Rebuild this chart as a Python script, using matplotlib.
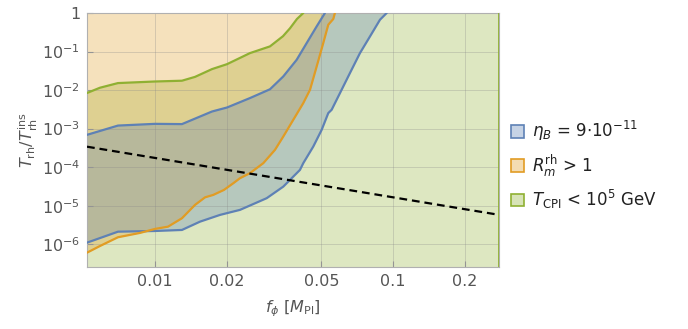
import numpy as np
import matplotlib
matplotlib.use("Agg")
import matplotlib.pyplot as plt
from matplotlib.patches import Patch

# ---- data ----
f_green = [0.00518, 0.00587, 0.00699, 0.0100, 0.01298, 0.01473, 0.01736, 0.02007,
           0.02506, 0.03042, 0.0345, 0.03691, 0.0395, 0.0420]
T_green = [8.4e-3, 1.15e-2, 1.52e-2, 1.67e-2, 1.75e-2, 2.2e-2, 3.5e-2, 4.7e-2,
           9.1e-2, 0.136, 0.25, 0.40, 0.70, 1.0]

f_blue_up = [0.00518, 0.00699, 0.0100, 0.01298, 0.01546, 0.01736, 0.02007, 0.02506,
             0.03042, 0.0346, 0.03938, 0.04339, 0.04779, 0.05177]
T_blue_up = [6.9e-4, 1.20e-3, 1.33e-3, 1.31e-3, 2.06e-3, 2.78e-3, 3.53e-3, 6.2e-3,
             1.05e-2, 2.26e-2, 6.1e-2, 0.166, 0.449, 1.0]

f_blue_lo = [0.00518, 0.00699, 0.0100, 0.01298, 0.01546, 0.01875, 0.02276, 0.02948,
             0.0346, 0.04066, 0.04198, 0.04625, 0.05016, 0.05347, 0.05524, 0.05988,
             0.06595, 0.07267, 0.08007, 0.0882, 0.0941]
T_blue_lo = [1.10e-6, 2.12e-6, 2.21e-6, 2.35e-6, 3.86e-6, 5.77e-6, 7.8e-6, 1.57e-5,
             3.13e-5, 8.5e-5, 1.27e-4, 3.43e-4, 9.3e-4, 2.53e-3, 3.08e-3, 8.36e-3,
             2.77e-2, 9.14e-2, 0.247, 0.67, 1.0]

f_orange = [0.00518, 0.00587, 0.00699, 0.00865, 0.0100, 0.01134, 0.01298, 0.01473,
            0.01623, 0.01758, 0.01949, 0.02134, 0.02276, 0.02506, 0.02851, 0.03192,
            0.0346, 0.0381, 0.04198, 0.04481, 0.04779, 0.05094, 0.05347, 0.05613,
            0.0570]
T_orange = [6.05e-7, 9.0e-7, 1.52e-6, 1.97e-6, 2.50e-6, 2.86e-6, 4.73e-6, 1.05e-5,
            1.65e-5, 1.91e-5, 2.57e-5, 3.84e-5, 5.18e-5, 6.99e-5, 1.27e-4, 2.81e-4,
            6.24e-4, 1.69e-3, 4.6e-3, 1.02e-2, 4.1e-2, 0.166, 0.497, 0.70, 1.0]

f_dash = [0.00518, 0.2789]
T_dash = [3.4e-4, 5.8e-6]

xticks = [0.01, 0.02, 0.05, 0.1, 0.2]
xticklabels = ["0.01", "0.02", "0.05", "0.1", "0.2"]
yticks = [1e-6, 1e-5, 1e-4, 1e-3, 1e-2, 1e-1, 1]
yticklabels = [r"$10^{-6}$", r"$10^{-5}$", r"$10^{-4}$", r"$10^{-3}$",
               r"$10^{-2}$", r"$10^{-1}$", "1"]

labels = [r"$\eta_B$ = 9$\cdot$10$^{-11}$", r"$R_m^{\rm rh}$ > 1",
          r"$T_{\rm CPI}$ < 10$^5$ GeV"]

xmin, xmax = 0.00518, 0.2789
ymin, ymax = 2.57e-7, 1.0

c_blue = "#5e81b5"
c_orange = "#e19c24"
c_green = "#8fb032"
alpha = 0.3

plt.rcParams["font.family"] = ["DejaVu Sans"]
plt.rcParams["mathtext.fontset"] = "dejavusans"

fig = plt.figure(figsize=(6.88, 3.29), dpi=100)
ax = fig.add_axes([87/688, 1-267/329, (499-87)/688, (267-13)/329])
ax.set_xscale("log")
ax.set_yscale("log")
ax.set_xlim(xmin, xmax)
ax.set_ylim(ymin, ymax)

# green region: below green curve, full height to the right
gx = np.append(f_green, xmax)
gy = np.append(T_green, ymax)
ax.fill_between(gx, ymin, gy, color=c_green, alpha=alpha, lw=0, zorder=1)
# orange region: above orange curve
ax.fill_between(f_orange, T_orange, ymax, color=c_orange, alpha=alpha, lw=0, zorder=1)
# blue band
bx = np.concatenate([f_blue_up, np.array(f_blue_lo)[::-1]])
by = np.concatenate([T_blue_up, np.array(T_blue_lo)[::-1]])
ax.fill(bx, by, color=c_blue, alpha=alpha, lw=0, zorder=1)

kw = dict(lw=1.6, zorder=3, solid_joinstyle="round", solid_capstyle="round")
ax.plot(f_green, T_green, color=c_green, **kw)
ax.plot(f_blue_up, T_blue_up, color=c_blue, **kw)
ax.plot(f_blue_lo, T_blue_lo, color=c_blue, **kw)
ax.plot(f_orange, T_orange, color=c_orange, **kw)
ax.axvline(xmax, color=c_green, lw=2, zorder=3)
ax.plot(f_dash, T_dash, color="black", lw=1.6, ls=(0, (3.5, 2.2)), zorder=4)

ax.set_xticks(xticks)
ax.set_xticklabels(xticklabels)
ax.set_yticks(yticks)
ax.set_yticklabels(yticklabels)
ax.minorticks_off()
ax.tick_params(direction="in", length=4, color="#999999", labelcolor="#555555",
               labelsize=11.5, pad=5)
for x in xticks:
    ax.axvline(x, color="#888888", lw=0.7, alpha=0.3, zorder=2)
for y in yticks:
    ax.axhline(y, color="#888888", lw=0.7, alpha=0.3, zorder=2)
for s in ax.spines.values():
    s.set_color("#b0b0b0")
    s.set_linewidth(0.8)

ax.set_xlabel(r"$f_\phi$ [$M_{\rm Pl}$]", color="#555555", fontsize=11.5, labelpad=7)
ax.set_ylabel(r"$T_{\rm rh}/T_{\rm rh}^{\rm ins}$", color="#555555", fontsize=11.5, labelpad=1)

handles = [Patch(facecolor=matplotlib.colors.to_rgba(c, 0.35), edgecolor=c, lw=1.2)
           for c in (c_blue, c_orange, c_green)]
leg = fig.legend(handles, labels, loc="center left", bbox_to_anchor=(496/688, 1-165/329),
                 frameon=False, fontsize=12, handlelength=0.75, handleheight=0.75,
                 handletextpad=0.5, labelspacing=0.55, labelcolor="#222222")

fig.savefig("out.png", dpi=100)
